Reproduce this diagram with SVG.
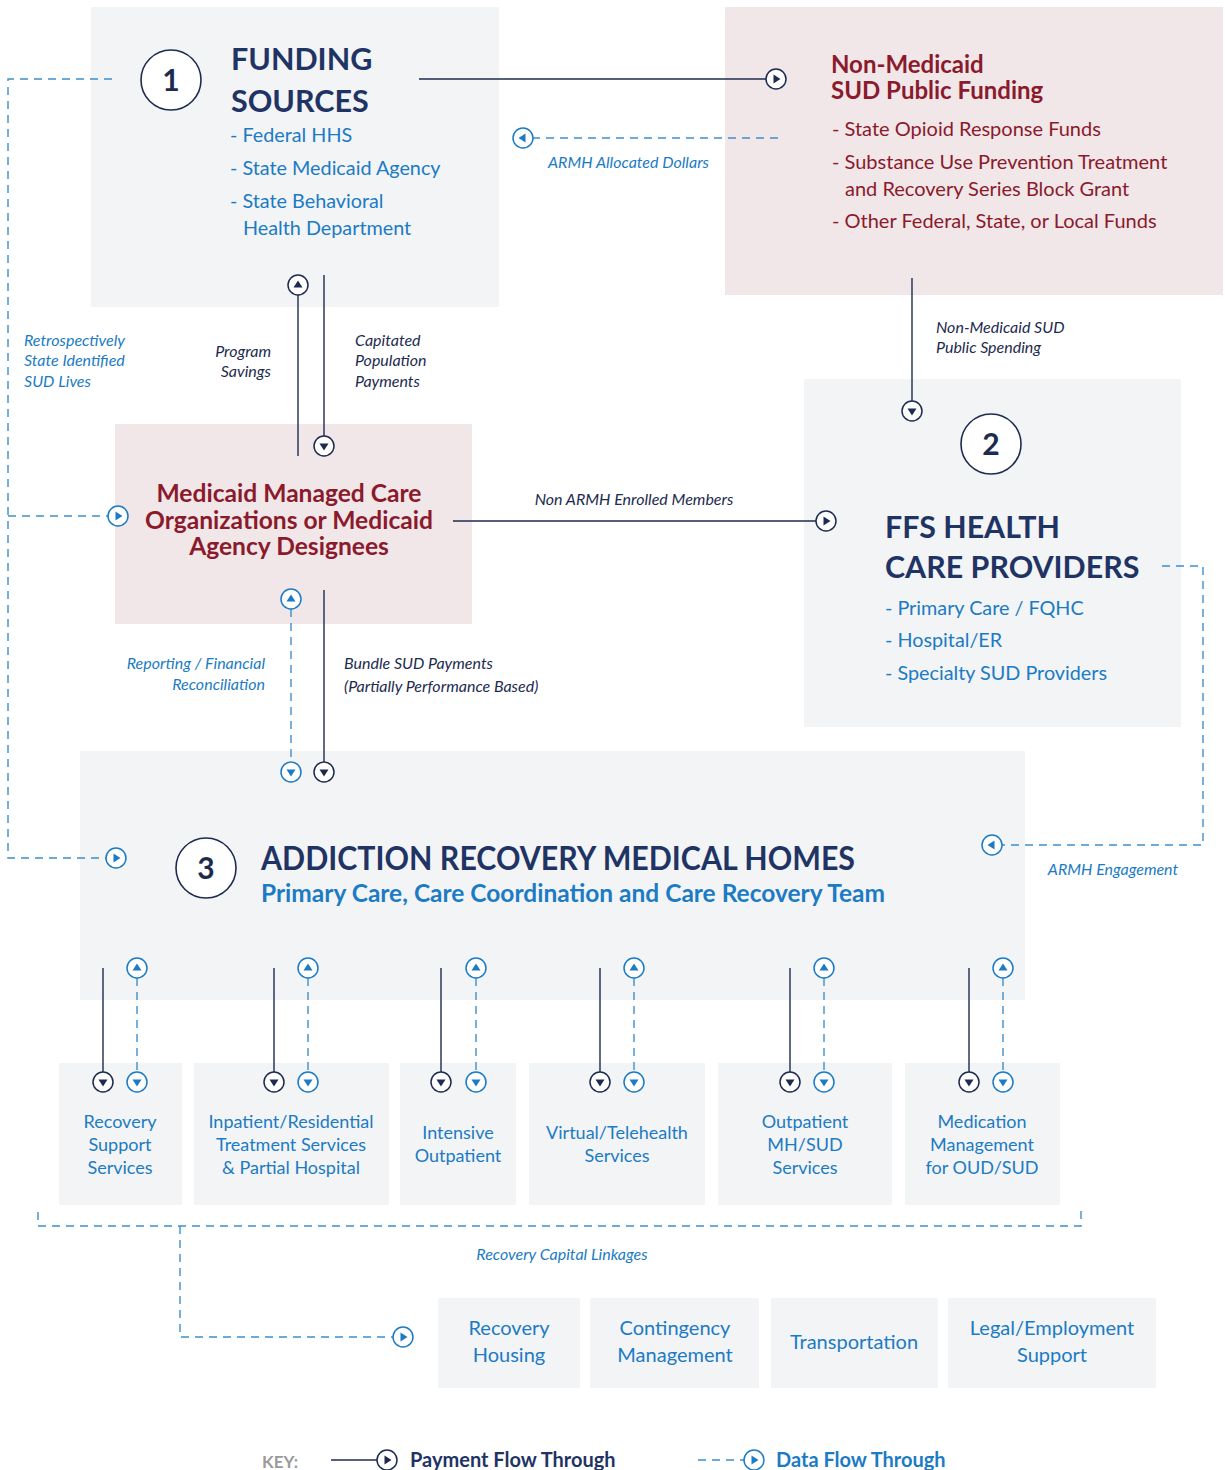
<svg xmlns="http://www.w3.org/2000/svg" xmlns:xlink="http://www.w3.org/1999/xlink" width="1225" height="1470" viewBox="0 0 1225 1470">
<style>
text{font-family:Lato,"Open Sans","Noto Sans",sans-serif}
.gbox{fill:#f3f4f6}
.pbox{fill:#f1e6e8}
.navyT{fill:#1f3464;font-weight:700}
.blueT{fill:#1b7bc4}
.blueB{fill:#1b7bc4;font-weight:700}
.maroon{fill:#8a1a2c}
.maroonB{fill:#8a1a2c;font-weight:700}
.lblN{fill:#1d2b4f;font-style:italic;font-size:16px}
.lblB{fill:#1b7bc4;font-style:italic;font-size:16px}
.pay{stroke:#1d2b4f;stroke-width:1.4;fill:none}
.data{stroke:#3d8fcc;stroke-width:1.4;fill:none;stroke-dasharray:8 6}
.num{fill:#fff;stroke:#1d2b4f;stroke-width:1.6}
.numT{fill:#1d2b4f;font-weight:700;font-size:30px}
.svc{fill:#1b7bc4;font-size:18px}
.rc{fill:#1b7bc4;font-size:20px}
</style>
<defs>
<g id="pr"><circle r="10" fill="#fff" stroke="#1d2b4f" stroke-width="1.5"/><path d="M-2.5,-4.5 L4.5,0 L-2.5,4.5Z" fill="#1d2b4f"/></g>
<g id="dr"><circle r="10" fill="#fff" stroke="#1b7bc4" stroke-width="1.5"/><path d="M-2.5,-4.5 L4.5,0 L-2.5,4.5Z" fill="#1b7bc4"/></g>
</defs>
<rect width="1225" height="1470" fill="#fff"/>

<g id="funding-sources">
<rect class="gbox" x="91" y="7" width="408" height="300"/>
<circle class="num" cx="171" cy="80" r="30"/>
<text class="numT" x="171" y="91" text-anchor="middle">1</text>
<text class="navyT" x="231" y="70" font-size="30.5">FUNDING</text>
<text class="navyT" x="231" y="112" font-size="30.5">SOURCES</text>
<text class="blueT" x="230" y="142" font-size="19.8">- Federal HHS</text>
<text class="blueT" x="230" y="175" font-size="19.8">- State Medicaid Agency</text>
<text class="blueT" x="230" y="208" font-size="19.8">- State Behavioral</text>
<text class="blueT" x="243" y="235" font-size="19.8">Health Department</text>
</g>

<g id="non-medicaid">
<rect class="pbox" x="725" y="7" width="498" height="288"/>
<text class="maroonB" x="831" y="73" font-size="24">Non-Medicaid</text>
<text class="maroonB" x="831" y="99" font-size="24">SUD Public Funding</text>
<text class="maroon" x="832" y="136" font-size="20">- State Opioid Response Funds</text>
<text class="maroon" x="832" y="169" font-size="20">- Substance Use Prevention Treatment</text>
<text class="maroon" x="845" y="196" font-size="20">and Recovery Series Block Grant</text>
<text class="maroon" x="832" y="228" font-size="20">- Other Federal, State, or Local Funds</text>
</g>

<g id="mco">
<rect class="pbox" x="115" y="424" width="357" height="200"/>
<text class="maroonB" x="289" y="502" font-size="24.6" text-anchor="middle">Medicaid Managed Care</text>
<text class="maroonB" x="289" y="529" font-size="24.6" text-anchor="middle">Organizations or Medicaid</text>
<text class="maroonB" x="289" y="555" font-size="24.6" text-anchor="middle">Agency Designees</text>
</g>

<g id="ffs">
<rect class="gbox" x="804" y="379" width="377" height="348"/>
<circle class="num" cx="991" cy="444" r="30"/>
<text class="numT" x="991" y="455" text-anchor="middle">2</text>
<text class="navyT" x="885" y="538" font-size="30.4">FFS HEALTH</text>
<text class="navyT" x="885" y="578" font-size="30.4">CARE PROVIDERS</text>
<text class="blueT" x="885" y="615" font-size="19.8">- Primary Care / FQHC</text>
<text class="blueT" x="885" y="647" font-size="19.8">- Hospital/ER</text>
<text class="blueT" x="885" y="680" font-size="19.8">- Specialty SUD Providers</text>
</g>

<g id="armh">
<rect class="gbox" x="80" y="751" width="945" height="249"/>
<circle class="num" cx="206" cy="868" r="30"/>
<text class="numT" x="206" y="879" text-anchor="middle">3</text>
<text class="navyT" x="261" y="870" font-size="32" textLength="594" lengthAdjust="spacingAndGlyphs">ADDICTION RECOVERY MEDICAL HOMES</text>
<text class="blueB" x="261" y="902" font-size="24" textLength="624" lengthAdjust="spacingAndGlyphs">Primary Care, Care Coordination and Care Recovery Team</text>
</g>

<g id="svc-recovery-support">
<rect class="gbox" x="59" y="1063" width="123" height="142"/>
<text class="svc" x="120" y="1128" text-anchor="middle">Recovery</text>
<text class="svc" x="120" y="1151" text-anchor="middle">Support</text>
<text class="svc" x="120" y="1174" text-anchor="middle">Services</text>
</g>
<g id="svc-inpatient">
<rect class="gbox" x="194" y="1063" width="195" height="142"/>
<text class="svc" x="291" y="1128" text-anchor="middle">Inpatient/Residential</text>
<text class="svc" x="291" y="1151" text-anchor="middle">Treatment Services</text>
<text class="svc" x="291" y="1174" text-anchor="middle">&amp; Partial Hospital</text>
</g>
<g id="svc-intensive">
<rect class="gbox" x="400" y="1063" width="116" height="142"/>
<text class="svc" x="458" y="1139" text-anchor="middle">Intensive</text>
<text class="svc" x="458" y="1162" text-anchor="middle">Outpatient</text>
</g>
<g id="svc-virtual">
<rect class="gbox" x="529" y="1063" width="176" height="142"/>
<text class="svc" x="617" y="1139" text-anchor="middle">Virtual/Telehealth</text>
<text class="svc" x="617" y="1162" text-anchor="middle">Services</text>
</g>
<g id="svc-outpatient">
<rect class="gbox" x="718" y="1063" width="174" height="142"/>
<text class="svc" x="805" y="1128" text-anchor="middle">Outpatient</text>
<text class="svc" x="805" y="1151" text-anchor="middle">MH/SUD</text>
<text class="svc" x="805" y="1174" text-anchor="middle">Services</text>
</g>
<g id="svc-medication">
<rect class="gbox" x="905" y="1063" width="155" height="142"/>
<text class="svc" x="982" y="1128" text-anchor="middle">Medication</text>
<text class="svc" x="982" y="1151" text-anchor="middle">Management</text>
<text class="svc" x="982" y="1174" text-anchor="middle">for OUD/SUD</text>
</g>

<g id="rc-housing">
<rect class="gbox" x="438" y="1298" width="142" height="90"/>
<text class="rc" x="509" y="1335" text-anchor="middle">Recovery</text>
<text class="rc" x="509" y="1362" text-anchor="middle">Housing</text>
</g>
<g id="rc-contingency">
<rect class="gbox" x="590" y="1298" width="169" height="90"/>
<text class="rc" x="675" y="1335" text-anchor="middle">Contingency</text>
<text class="rc" x="675" y="1362" text-anchor="middle">Management</text>
</g>
<g id="rc-transportation">
<rect class="gbox" x="771" y="1298" width="167" height="90"/>
<text class="rc" x="854" y="1349" text-anchor="middle">Transportation</text>
</g>
<g id="rc-legal">
<rect class="gbox" x="948" y="1298" width="208" height="90"/>
<text class="rc" x="1052" y="1335" text-anchor="middle">Legal/Employment</text>
<text class="rc" x="1052" y="1362" text-anchor="middle">Support</text>
</g>

<g id="connectors">
<path class="pay" d="M419,79 H766"/>
<use href="#pr" transform="translate(776,79)"/>
<path class="data" d="M778,138 H533"/>
<use href="#dr" transform="translate(523,138) rotate(180)"/>
<text class="lblB" x="548" y="168">ARMH Allocated Dollars</text>
<path class="data" d="M112,79 H8 V858 H106"/>
<path class="data" d="M8,516 H108"/>
<use href="#dr" transform="translate(118,516)"/>
<use href="#dr" transform="translate(116,858)"/>
<text class="lblB" x="24" y="346">Retrospectively</text>
<text class="lblB" x="24" y="366">State Identified</text>
<text class="lblB" x="24" y="387">SUD Lives</text>
<path class="pay" d="M298,456 V295"/>
<use href="#pr" transform="translate(298,285) rotate(-90)"/>
<text class="lblN" x="271" y="357" text-anchor="end">Program</text>
<text class="lblN" x="271" y="377" text-anchor="end">Savings</text>
<path class="pay" d="M324,275 V436"/>
<use href="#pr" transform="translate(324,446) rotate(90)"/>
<text class="lblN" x="355" y="346">Capitated</text>
<text class="lblN" x="355" y="366">Population</text>
<text class="lblN" x="355" y="387">Payments</text>
<path class="pay" d="M912,278 V401"/>
<use href="#pr" transform="translate(912,411) rotate(90)"/>
<text class="lblN" x="936" y="333">Non-Medicaid SUD</text>
<text class="lblN" x="936" y="353">Public Spending</text>
<path class="pay" d="M453,521 H816"/>
<use href="#pr" transform="translate(826,521)"/>
<text class="lblN" x="634" y="505" text-anchor="middle">Non ARMH Enrolled Members</text>
<path class="data" d="M291,609 V762"/>
<use href="#dr" transform="translate(291,599) rotate(-90)"/>
<use href="#dr" transform="translate(291,772) rotate(90)"/>
<text class="lblB" x="265" y="669" text-anchor="end">Reporting / Financial</text>
<text class="lblB" x="265" y="690" text-anchor="end">Reconciliation</text>
<path class="pay" d="M324,590 V762"/>
<use href="#pr" transform="translate(324,772) rotate(90)"/>
<text class="lblN" x="344" y="669">Bundle SUD Payments</text>
<text class="lblN" x="344" y="692">(Partially Performance Based)</text>
<path class="data" d="M1162,566 H1203 V845 H1002"/>
<use href="#dr" transform="translate(992,845) rotate(180)"/>
<text class="lblB" x="1113" y="875" text-anchor="middle">ARMH Engagement</text>
<path class="pay" d="M103,968 V1072 M274,968 V1072 M441,968 V1072 M600,968 V1072 M790,968 V1072 M969,968 V1072"/>
<path class="data" d="M137,978 V1072 M308,978 V1072 M476,978 V1072 M634,978 V1072 M824,978 V1072 M1003,978 V1072"/>
<use href="#pr" transform="translate(103,1082) rotate(90)"/>
<use href="#pr" transform="translate(274,1082) rotate(90)"/>
<use href="#pr" transform="translate(441,1082) rotate(90)"/>
<use href="#pr" transform="translate(600,1082) rotate(90)"/>
<use href="#pr" transform="translate(790,1082) rotate(90)"/>
<use href="#pr" transform="translate(969,1082) rotate(90)"/>
<use href="#dr" transform="translate(137,968) rotate(-90)"/>
<use href="#dr" transform="translate(308,968) rotate(-90)"/>
<use href="#dr" transform="translate(476,968) rotate(-90)"/>
<use href="#dr" transform="translate(634,968) rotate(-90)"/>
<use href="#dr" transform="translate(824,968) rotate(-90)"/>
<use href="#dr" transform="translate(1003,968) rotate(-90)"/>
<use href="#dr" transform="translate(137,1082) rotate(90)"/>
<use href="#dr" transform="translate(308,1082) rotate(90)"/>
<use href="#dr" transform="translate(476,1082) rotate(90)"/>
<use href="#dr" transform="translate(634,1082) rotate(90)"/>
<use href="#dr" transform="translate(824,1082) rotate(90)"/>
<use href="#dr" transform="translate(1003,1082) rotate(90)"/>
<path class="data" d="M38,1212 V1226 H1081 V1210"/>
<path class="data" d="M180,1226 V1337 H393"/>
<use href="#dr" transform="translate(403,1337)"/>
<text class="lblB" x="562" y="1260" text-anchor="middle">Recovery Capital Linkages</text>
</g>

<g id="key">
<text x="262" y="1468" font-size="17" fill="#9a9a9a" font-weight="700">KEY:</text>
<path class="pay" d="M331,1460 H377"/>
<use href="#pr" transform="translate(387,1460)"/>
<text class="navyT" x="410" y="1467" font-size="20" fill="#1d2b4f">Payment Flow Through</text>
<path class="data" d="M698,1460 H744"/>
<use href="#dr" transform="translate(754,1460)"/>
<text class="blueB" x="776" y="1467" font-size="20">Data Flow Through</text>
</g>
</svg>
